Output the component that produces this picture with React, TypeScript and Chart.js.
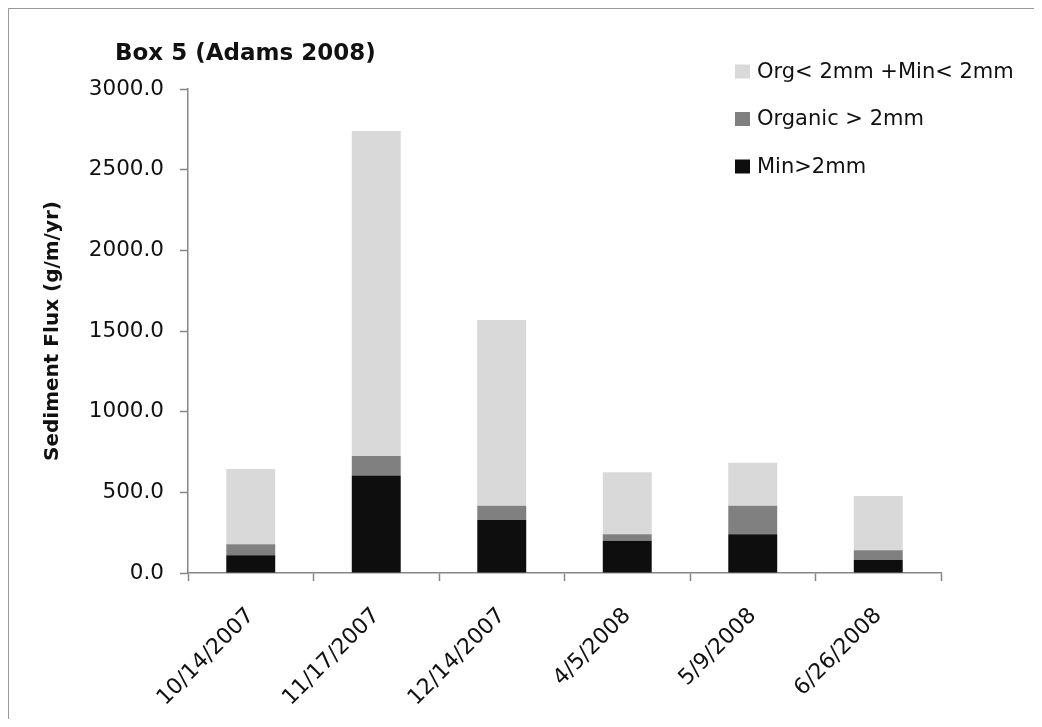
import React, { useEffect, useRef } from 'react';
import { Chart, registerables } from 'chart.js';

Chart.register(...registerables);

const categories = ['10/14/2007', '11/17/2007', '12/14/2007', '4/5/2008', '5/9/2008', '6/26/2008'];
const minOver2mm = [110, 605, 328, 200, 240, 81];
const organicOver2mm = [68, 120, 89, 40, 177, 60];
const fineUnder2mm = [467, 2015, 1151, 384, 267, 336];
const seriesLabels = ['Min>2mm', 'Organic > 2mm', 'Org< 2mm +Min< 2mm'];
const seriesColors = ['#0e0e0e', '#808080', '#d9d9d9'];
const yMin = 0;
const yMax = 3000;
const yStep = 500;
const titleText = 'Box 5 (Adams 2008)';
const yAxisTitle = 'Sediment Flux (g/m/yr)';

const FONT = '"DejaVu Sans", sans-serif';
const AXIS_COLOR = '#868686';
const TEXT_COLOR = '#111111';

const decorPlugin = {
  id: 'decor',
  afterDraw(chart: any) {
    const ctx = chart.ctx as CanvasRenderingContext2D;
    ctx.save();
    // title
    ctx.font = `bold 23px ${FONT}`;
    ctx.fillStyle = TEXT_COLOR;
    ctx.textAlign = 'left';
    ctx.textBaseline = 'alphabetic';
    ctx.fillText(titleText, 107, 52);

    // legend (reverse order, top = last dataset)
    const ds = chart.data.datasets.slice().reverse();
    ctx.font = `21px ${FONT}`;
    ctx.textBaseline = 'middle';
    ds.forEach((d: any, i: number) => {
      const cy = 63.5 + i * 47.5;
      ctx.fillStyle = d.backgroundColor;
      ctx.fillRect(727, cy - 7, 15, 14);
      ctx.fillStyle = TEXT_COLOR;
      ctx.fillText(d.label, 749, cy + 1);
    });
    ctx.restore();
  },
};

export default function App() {
  const canvasRef = useRef<HTMLCanvasElement | null>(null);

  useEffect(() => {
    if (!canvasRef.current) return;
    const values = [minOver2mm, organicOver2mm, fineUnder2mm];
    const chart = new Chart(canvasRef.current, {
      type: 'bar',
      data: {
        labels: categories,
        datasets: values.map((v, i) => ({
          label: seriesLabels[i],
          data: v,
          backgroundColor: seriesColors[i],
          borderWidth: 0,
          categoryPercentage: 1,
          barPercentage: 0.39,
        })),
      },
      options: {
        animation: false,
        responsive: true,
        maintainAspectRatio: false,
        layout: { padding: { top: 81, right: 93, bottom: 0, left: 0 } },
        plugins: {
          legend: { display: false },
          title: { display: false },
          tooltip: { enabled: false },
        },
        scales: {
          x: {
            stacked: true,
            offset: true,
            grid: {
              offset: true,
              drawOnChartArea: false,
              drawTicks: true,
              tickLength: 8,
              tickColor: AXIS_COLOR,
              tickWidth: 1.5,
            },
            border: { display: true, color: AXIS_COLOR, width: 1.5 },
            ticks: {
              autoSkip: false,
              minRotation: 45,
              maxRotation: 45,
              padding: 22,
              color: TEXT_COLOR,
              font: { family: FONT, size: 22 },
            },
            afterFit: (scale: any) => {
              scale.height = 146;
            },
          },
          y: {
            stacked: true,
            min: yMin,
            max: yMax,
            grid: {
              drawOnChartArea: false,
              drawTicks: true,
              tickLength: 8,
              tickColor: AXIS_COLOR,
              tickWidth: 1.5,
            },
            border: { display: true, color: AXIS_COLOR, width: 1.5 },
            ticks: {
              stepSize: yStep,
              padding: 16,
              color: TEXT_COLOR,
              font: { family: FONT, size: 21.5 },
              callback: (v: any) => Number(v).toFixed(1),
            },
            title: {
              display: true,
              text: yAxisTitle,
              color: TEXT_COLOR,
              font: { family: FONT, size: 20, weight: 'bold' },
              padding: { top: 33, bottom: 0 },
            },
            afterFit: (scale: any) => {
              scale.width = 180;
            },
          },
        },
      },
      plugins: [decorPlugin],
    });
    return () => chart.destroy();
  }, []);

  return (
    <div style={{ position: 'relative', width: 1026, height: 711 }}>
      <canvas ref={canvasRef} />
      <div
        style={{
          position: 'absolute',
          left: 0,
          top: 0,
          right: 0,
          bottom: 0,
          borderLeft: '1.5px solid #9a9a9a',
          borderTop: '1.5px solid #9a9a9a',
          pointerEvents: 'none',
        }}
      />
    </div>
  );
}
